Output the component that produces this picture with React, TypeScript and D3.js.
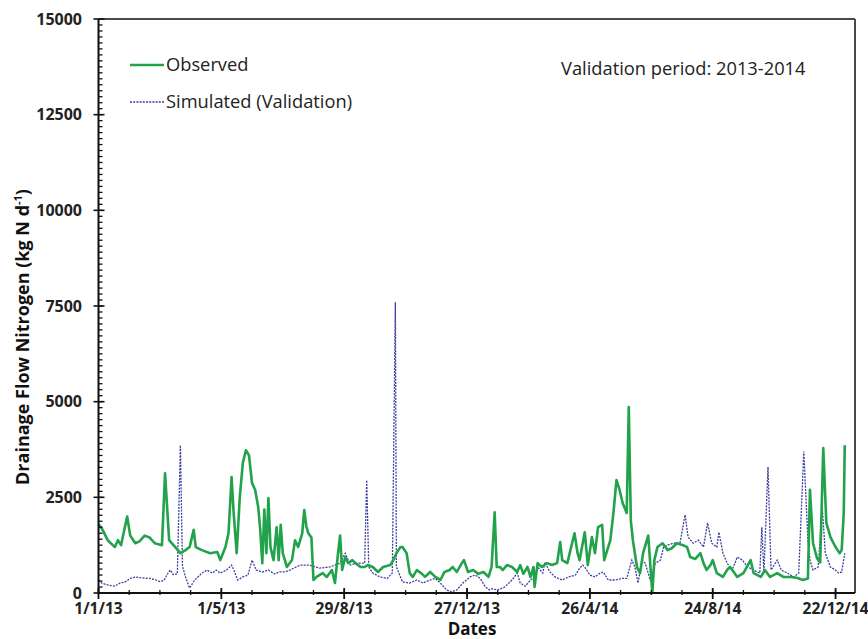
import React from "react";
import * as d3 from "d3";

// Day offset from 1 Jan 2013, value (kg N d-1)
const observed: [number, number][] = [
  [0, 1800], [4, 1650], [9, 1380], [16, 1200], [19, 1380], [22, 1250], [28, 2000], [31, 1500],
  [36, 1300], [40, 1350], [45, 1500], [50, 1450], [55, 1300], [62, 1250], [65, 3130], [69, 1380],
  [75, 1200], [80, 1040], [85, 1120], [89, 1200], [93, 1650], [95, 1200], [101, 1120], [109, 1040],
  [116, 1070], [119, 860], [124, 1200], [127, 1560], [130, 3030], [132, 2100], [135, 1040], [138, 2500],
  [141, 3400], [144, 3730], [147, 3600], [150, 2870], [153, 2700], [156, 2250], [158, 1650], [160, 780],
  [162, 2180], [164, 1040], [166, 2480], [168, 1200], [171, 860], [174, 1720], [176, 860], [178, 1780],
  [180, 1040], [184, 680], [189, 860], [192, 1380], [195, 1200], [199, 1560], [201, 2170], [203, 1750],
  [205, 1560], [208, 1450], [210, 340], [213, 420], [219, 520], [223, 420], [228, 600], [231, 260],
  [234, 1040], [236, 1500], [238, 600], [241, 940], [244, 780], [248, 860], [251, 780], [256, 680],
  [260, 680], [263, 730], [268, 680], [273, 550], [278, 680], [285, 730], [288, 860], [291, 1040],
  [293, 1120], [295, 1200], [297, 1200], [301, 1040], [304, 520], [307, 420], [311, 600], [316, 500],
  [319, 420], [324, 550], [329, 420], [334, 340], [338, 550], [343, 600], [346, 680], [350, 550],
  [355, 780], [357, 860], [361, 550], [366, 600], [371, 500], [376, 550], [381, 420], [384, 680],
  [387, 2110], [389, 680], [392, 680], [395, 600], [399, 730], [404, 680], [409, 550], [412, 730],
  [415, 500], [419, 680], [422, 420], [425, 680], [426, 160], [429, 780], [433, 680], [438, 780],
  [443, 730], [448, 780], [451, 1330], [453, 860], [458, 780], [461, 1120], [465, 1560], [468, 1040],
  [470, 860], [475, 1590], [478, 730], [482, 1460], [485, 1040], [488, 1720], [492, 1780], [494, 860],
  [497, 1120], [500, 1380], [503, 2090], [506, 2950], [509, 2700], [512, 2350], [516, 2090], [518, 4860],
  [520, 1900], [522, 1380], [526, 680], [529, 520], [532, 1040], [537, 1500], [541, 0], [543, 860],
  [546, 1200], [551, 1300], [556, 1120], [560, 1170], [565, 1300], [571, 1250], [575, 1200], [578, 940],
  [583, 890], [588, 1040], [591, 780], [594, 600], [598, 740], [600, 860], [604, 520], [610, 420],
  [614, 600], [617, 680], [624, 420], [630, 520], [637, 860], [640, 520], [647, 420], [651, 600],
  [656, 420], [663, 520], [669, 420], [676, 420], [683, 390], [688, 340], [693, 380], [695, 2700],
  [698, 1300], [702, 900], [705, 800], [708, 3790], [711, 1830], [715, 1460], [720, 1200], [724, 1040],
  [726, 1120], [728, 2090], [729, 3860],
];

const simulated: [number, number][] = [
  [0, 340], [3, 260], [9, 210], [16, 180], [21, 260], [26, 290], [31, 380], [36, 420], [41, 400],
  [45, 390], [50, 380], [55, 350], [60, 300], [64, 330], [67, 480], [70, 600], [73, 480], [77, 500],
  [80, 3860], [82, 700], [85, 420], [89, 130], [94, 340], [101, 520], [106, 600], [111, 520], [115, 600],
  [119, 520], [125, 600], [130, 730], [133, 550], [136, 340], [141, 420], [146, 470], [150, 860],
  [154, 600], [160, 550], [166, 600], [172, 500], [177, 550], [182, 550], [187, 600], [197, 730],
  [206, 730], [216, 650], [226, 680], [236, 780], [241, 1040], [246, 730], [253, 780], [260, 780],
  [262, 2950], [264, 680], [268, 520], [275, 420], [282, 380], [287, 520], [290, 7600], [291, 680],
  [297, 290], [304, 260], [311, 340], [317, 260], [324, 340], [329, 380], [334, 260], [340, 80],
  [345, 30], [350, 80], [356, 260], [363, 420], [368, 470], [373, 380], [378, 160], [382, 80],
  [384, 110], [390, 80], [397, 160], [404, 340], [409, 520], [412, 260], [417, 180], [422, 340],
  [426, 420], [429, 680], [434, 520], [436, 800], [441, 550], [446, 420], [453, 340], [459, 420],
  [466, 470], [470, 650], [473, 730], [475, 680], [480, 470], [485, 420], [490, 520], [493, 550],
  [498, 340], [505, 340], [511, 380], [516, 380], [521, 860], [524, 680], [527, 260], [531, 860],
  [534, 780], [539, 340], [544, 780], [549, 860], [552, 1200], [556, 1250], [561, 1300], [568, 1300],
  [573, 2040], [576, 1460], [581, 1300], [586, 1380], [591, 1200], [595, 1830], [599, 1300], [604, 1200],
  [606, 1590], [610, 1040], [614, 780], [619, 600], [624, 940], [629, 860], [634, 680], [640, 600],
  [646, 520], [648, 1720], [650, 520], [654, 3290], [657, 600], [663, 860], [667, 600], [673, 520],
  [679, 420], [684, 520], [689, 3700], [693, 1380], [695, 860], [698, 600], [703, 680], [707, 2250],
  [710, 1040], [715, 680], [720, 600], [723, 520], [726, 550], [729, 1040],
];

const xTickLabels = ["1/1/13", "1/5/13", "29/8/13", "27/12/13", "26/4/14", "24/8/14", "22/12/14"];
const xTickDays = [0, 120, 240, 360, 480, 600, 720];
const yTicks = [0, 2500, 5000, 7500, 10000, 12500, 15000];

const W = 868;
const H = 639;
const left = 98.5;
const right = 855;
const top = 19;
const bottom = 593;

const FONT = "'Open Sans', sans-serif";
const GREEN = "#22a24a";
const BLUE = "#3b3f9e";

export default function App() {
  const x = d3.scaleLinear().domain([0, 739]).range([left, right]);
  const y = d3.scaleLinear().domain([0, 15000]).range([bottom, top]);
  const line = d3
    .line<[number, number]>()
    .x((d) => x(d[0]))
    .y((d) => y(d[1]));

  const xMinor = d3.range(0, 739, 30);
  const yMinor = d3.range(0, 15000, 2500 / 16);

  return (
    <svg
      width={W}
      height={H}
      style={{ position: "absolute", left: 0, top: 0, background: "#fff" }}
      fontFamily={FONT}
    >
      <rect x={0} y={0} width={W} height={H} fill="#fff" />
      {/* frame */}
      <line x1={left} x2={right} y1={top} y2={top} stroke="#4a4a4a" strokeWidth={2} />
      <line x1={right} x2={right} y1={top} y2={bottom} stroke="#4a4a4a" strokeWidth={2} />

      {/* series */}
      <path d={line(simulated) || ""} fill="none" stroke={BLUE} strokeWidth={1.3} strokeDasharray="2,1.2" />
      <path d={line(observed) || ""} fill="none" stroke={GREEN} strokeWidth={2.6} strokeLinejoin="round" />

      {/* y axis */}
      <line x1={left} x2={left} y1={top} y2={bottom} stroke="#111" strokeWidth={2} />
      {yMinor.map((v, i) => (
        <line key={"ym" + i} x1={left} x2={left + 4} y1={y(v)} y2={y(v)} stroke="#111" strokeWidth={1.3} />
      ))}
      {yTicks.map((v) => (
        <g key={"yt" + v}>
          <line x1={left - 5} x2={left + 6} y1={y(v)} y2={y(v)} stroke="#111" strokeWidth={1.6} />
          <text x={82} y={y(v)} dy="0.35em" textAnchor="end" fontSize={16} fontWeight={700} fill="#222">
            {v}
          </text>
        </g>
      ))}

      {/* x axis */}
      <line x1={left} x2={right} y1={bottom} y2={bottom} stroke="#111" strokeWidth={2} />
      {xMinor.map((d, i) => (
        <line key={"xm" + i} x1={x(d)} x2={x(d)} y1={bottom - 3} y2={bottom + 2} stroke="#111" strokeWidth={1.3} />
      ))}
      {xTickDays.map((d, i) => (
        <g key={"xt" + d}>
          <line x1={x(d)} x2={x(d)} y1={bottom - 5} y2={bottom + 6} stroke="#111" strokeWidth={1.8} />
          <text x={x(d)} y={614} textAnchor="middle" fontSize={15.5} fontWeight={700} fill="#222">
            {xTickLabels[i]}
          </text>
        </g>
      ))}

      {/* axis titles */}
      <text x={472} y={635} textAnchor="middle" fontSize={17} fontWeight={700} fill="#111">
        Dates
      </text>
      <text
        transform={`translate(29,337) rotate(-90)`}
        textAnchor="middle"
        fontSize={18}
        fontWeight={700}
        fill="#111"
      >
        Drainage Flow Nitrogen (kg N d
        <tspan fontSize={11} dy={-7}>-1</tspan>
        <tspan dy={7}>)</tspan>
      </text>

      {/* legend */}
      <line x1={130} x2={164} y1={65} y2={65} stroke={GREEN} strokeWidth={2.6} />
      <text x={166} y={65} dy="0.35em" fontSize={18.3} fill="#222">
        Observed
      </text>
      <line x1={130} x2={164} y1={102} y2={102} stroke={BLUE} strokeWidth={1.3} strokeDasharray="2,1.2" />
      <text x={166} y={102} dy="0.35em" fontSize={18.3} fill="#222">
        Simulated (Validation)
      </text>
      <text x={561} y={69} dy="0.35em" fontSize={18.3} fill="#222">
        Validation period: 2013-2014
      </text>
    </svg>
  );
}
